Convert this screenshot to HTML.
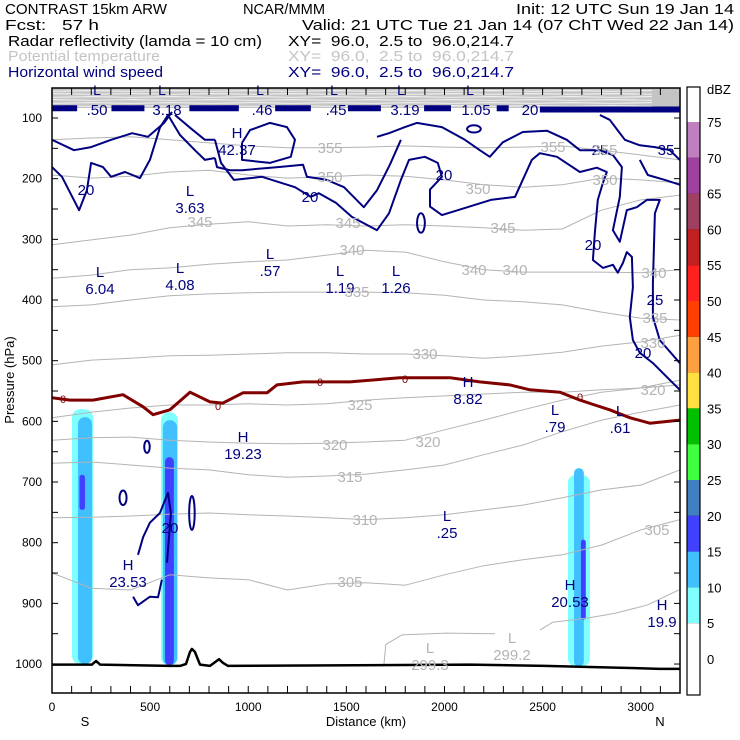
<!DOCTYPE html>
<html><head><meta charset="utf-8">
<style>
html,body{margin:0;padding:0;background:#fff;}
svg{display:block;font-family:"Liberation Sans",sans-serif;}
.hdr{font-size:15px;}
</style></head>
<body>
<svg id="chart" width="740" height="740" viewBox="0 0 740 740" xmlns="http://www.w3.org/2000/svg">
<defs><clipPath id="plotclip"><rect x="52" y="88" width="628" height="605"/></clipPath></defs>
<rect x="0" y="0" width="740" height="740" fill="#fff"/>
<g class="hdr">
<text x="5" y="14" textLength="162" lengthAdjust="spacingAndGlyphs">CONTRAST 15km ARW</text>
<text x="243" y="14" textLength="82" lengthAdjust="spacingAndGlyphs">NCAR/MMM</text>
<text x="516" y="14" textLength="218" lengthAdjust="spacingAndGlyphs">Init: 12 UTC Sun 19 Jan 14</text>
<text x="5" y="30" textLength="94" lengthAdjust="spacingAndGlyphs" xml:space="preserve">Fcst:   57 h</text>
<text x="302" y="30" textLength="432" lengthAdjust="spacingAndGlyphs">Valid: 21 UTC Tue 21 Jan 14 (07 ChT Wed 22 Jan 14)</text>
<text x="8" y="46" textLength="254" lengthAdjust="spacingAndGlyphs">Radar reflectivity (lamda = 10 cm)</text>
<text x="288" y="46" textLength="226" lengthAdjust="spacingAndGlyphs" xml:space="preserve">XY=  96.0,  2.5 to  96.0,214.7</text>
<text x="8" y="61" fill="#c4c4c4" textLength="152" lengthAdjust="spacingAndGlyphs">Potential temperature</text>
<text x="288" y="61" fill="#c4c4c4" textLength="226" lengthAdjust="spacingAndGlyphs" xml:space="preserve">XY=  96.0,  2.5 to  96.0,214.7</text>
<text x="8" y="77" fill="#000080" textLength="155" lengthAdjust="spacingAndGlyphs">Horizontal wind speed</text>
<text x="288" y="77" fill="#000080" textLength="226" lengthAdjust="spacingAndGlyphs" xml:space="preserve">XY=  96.0,  2.5 to  96.0,214.7</text>
</g>
<g id="plot" clip-path="url(#plotclip)"></g>
<g id="labels"></g>
<g id="axes"></g>
<g id="cbar"></g>
</svg>
<script>
const ns="http://www.w3.org/2000/svg";
// ---- axis data ----
const pressureTicks=[100,200,300,400,500,600,700,800,900,1000];
const distanceTicks=[0,500,1000,1500,2000,2500,3000];
// ---- colorbar data ----
const dbzLevels=[75,70,65,60,55,50,45,40,35,30,25,20,15,10,5,0];
const dbzColors=["#c080c0","#a040a0","#a04060","#c02020","#ff2020","#ff4000","#ffa040","#ffe040","#00c000","#40ff40","#4080c0","#4040ff","#40c0ff","#80ffff","#ffffff"];
// ---- reflectivity columns (km start, km end, top pressure, dBZ level) ----
const reflStartKm=[102,132,555,565,576,2629,2660,2695,140];
const reflEndKm=[209,204,642,637,621,2741,2710,2720,168];
const reflTopP=[580,593,585,598,659,688,677,795,688];
const reflBottomP=[1000,1000,1002,1002,1002,1004,1004,927,746];
const reflLevel=[5,10,5,10,15,5,10,15,15];
// ---- potential temperature ----
const thetaKm=[0,200,400,600,800,1000,1200,1400,1600,1800,2000,2200,2400,2600,2800,3000,3200];
const theta355=[136,133,131,136,141,146,149,149,148,146,148,149,148,146,153,161,169];
const theta350=[194,199,196,189,186,194,199,197,194,196,202,210,214,210,199,202,207];
const theta345=[309,301,293,281,275,271,278,276,278,276,278,281,285,283,252,235,227];
const theta340=[364,359,350,347,341,337,334,326,318,321,337,350,354,354,354,355,350];
const theta335=[411,408,400,393,390,388,387,387,387,388,392,400,403,408,420,430,433];
const theta330=[507,499,496,492,491,489,487,487,489,489,492,496,492,486,476,469,458];
const theta325=[594,585,578,573,573,571,573,571,565,561,558,555,552,552,548,545,532];
const theta320=[631,627,626,631,634,636,637,636,634,631,614,598,581,565,552,545,540];
const theta315=[669,667,672,677,680,688,692,690,687,680,672,655,639,617,598,585,573];
const theta310=[759,758,756,753,751,754,756,759,762,759,754,746,738,726,713,705,680];
const theta305=[850,875,878,853,858,861,878,868,866,870,853,838,828,820,804,779,762];
const theta300a=[[1691,1001],[1701,968],[1783,952],[2007,949],[2257,950]];
const theta300b=[[2486,944],[2552,931],[2735,924],[2873,916],[3031,903],[3194,878]];
// ---- freezing level ----
const zeroKm=[0,92,209,362,464,515,601,703,805,871,973,1096,1146,1279,1518,1773,2027,2180,2333,2435,2588,2690,2766,2842,2944,3046,3199];
const zeroP=[561,565,565,556,576,589,581,552,568,570,553,553,540,535,535,528,528,535,540,548,552,565,573,581,594,603,598];
// ---- terrain ----
const terrainKm=[0,204,224,245,601,652,683,703,713,728,754,805,830,851,871,897,2129,2511,2893,3097,3199];
const terrainP=[1001,1001,995,1001,1003,1003,1000,980,975,980,1001,1003,997,992,998,1003,1001,1003,1006,1008,1008];
// ---- wind speed contours [km, hPa] ----
const wind20a=[[830,136],[861,174],[927,202],[1070,197],[1238,214],[1319,230],[1360,224],[1447,240],[1528,263],[1656,285],[1717,257],[1778,202],[1819,169],[1900,164],[1966,174],[1987,197],[1926,218],[1926,246],[1987,260],[2068,252],[2236,235],[2359,230],[2445,169],[2486,158],[2573,164],[2690,189],[2776,182],[2827,189],[2807,207],[2781,235],[2766,290],[2756,334],[2807,347],[2858,342],[2883,355],[2909,339],[2929,321],[2955,329],[2960,379],[2944,428],[2960,466],[2995,487],[3062,504],[3133,527],[3199,548]];
const wind25=[[1656,131],[1717,125],[1798,115],[1859,108],[1987,115],[2104,136],[2180,153],[2231,164],[2297,140],[2399,123],[2522,121],[2623,136],[2690,153],[2792,153],[2858,161],[2904,181],[2893,230],[2858,285],[2893,304],[2929,252],[2980,247],[3031,235],[3097,235],[3072,257],[3062,372],[3062,428],[3097,466],[3199,504]];
const wind35a=[[2792,95],[2842,103],[2919,136],[2995,145],[3072,148],[3148,153],[3199,169]];
const wind35b=[[2995,169],[3036,194],[3123,202],[3199,210]];
const wind20b=[[0,181],[51,197],[138,252],[178,219],[199,174],[260,181],[301,197],[372,189],[448,199],[499,169],[550,116],[591,95]];
const wind20c=[[0,136],[112,153],[199,148],[301,136],[408,125],[489,131],[571,108],[611,90]];
const windMax=[[968,141],[1009,120],[1110,108],[1197,115],[1238,136],[1217,164],[1110,174],[968,169],[968,141]];
const wind30=[[830,166],[841,181],[907,186],[968,186],[1151,181],[1279,177],[1299,197],[1401,202],[1488,214],[1589,247],[1656,219],[1722,177],[1778,136]];
const wind25b=[[591,95],[652,128],[728,153],[779,169],[830,166]];
const wind30b=[[627,95],[703,116],[779,136],[830,136]];
const wind20low=[[438,820],[464,791],[499,767],[550,751],[591,718],[606,751],[586,833]];
const wind20max=[[413,889],[438,903],[499,889],[540,890],[560,861]];
const windJetStartKm=[0,303,700,1137,1508,1896,2266,2486];
const windJetEndKm=[128,471,952,1319,1676,2033,2327,3199];
const windJetP=[84,84,84,84,84,84,84,86];
const windOvalKm=[1880,484,362,713,2150];
const windOvalP=[273,642,726,751,118];
const windOvalRk=[20,14,18,14,35];
const windOvalRp=[16,10,12,28,6];

const xS=km=>52+km*(628/3200);
const yS=p=>118+(p-100)*0.6067;
const plot=document.getElementById('plot');

function poly(parent,pts,stroke,w,name){
  const el=document.createElementNS(ns,'polyline');
  el.setAttribute('points',pts.map(d=>xS(d[0]).toFixed(1)+','+yS(d[1]).toFixed(1)).join(' '));
  el.setAttribute('fill','none');el.setAttribute('stroke',stroke);el.setAttribute('stroke-width',w);
  el.setAttribute('stroke-linejoin','round');
  
  
  parent.appendChild(el);return el;
}
function rect(parent,x,y,w,h,fill,name){
  const r=document.createElementNS(ns,'rect');
  r.setAttribute('x',x);r.setAttribute('y',y);r.setAttribute('width',w);r.setAttribute('height',h);r.setAttribute('fill',fill);
  
  
  parent.appendChild(r);return r;
}
function txt(parent,x,y,s,fill,size,anchor,name){
  const t=document.createElementNS(ns,'text');
  t.setAttribute('x',x);t.setAttribute('y',y);t.setAttribute('fill',fill);t.setAttribute('font-size',size);
  t.setAttribute('text-anchor',anchor||'middle');t.textContent=s;
  
  
  parent.appendChild(t);return t;
}
function colorFor(level){return dbzColors[dbzLevels.indexOf(level+5)];}

// top stratospheric dense theta band
rect(plot,52,88,628,20,"#c4c4c4",'stratosphere-theta-band');
for(let i=0;i<6;i++){
  const l=document.createElementNS(ns,'path');
  const y0=90.5+i*3;
  let d='M52 '+y0;
  for(let x=52;x<=680;x+=40){d+=' L'+x+' '+(y0+((x/40+i)%2)*0.6);}
  l.setAttribute('d',d);l.setAttribute('stroke','#fff');l.setAttribute('stroke-width','0.8');l.setAttribute('fill','none');
  
  
  plot.appendChild(l);
}

// reflectivity
for(let i=0;i<reflStartKm.length;i++){
  const x0=xS(reflStartKm[i]),x1=xS(reflEndKm[i]),y0=yS(reflTopP[i]),y1=yS(reflBottomP[i]);
  const r=rect(plot,x0,y0,x1-x0,y1-y0,colorFor(reflLevel[i]),'reflectivity-cell');
  r.setAttribute('rx',Math.min((x1-x0)/2,8));
}

// theta lines
const thetaSeries=[theta355,theta350,theta345,theta340,theta335,theta330,theta325,theta320,theta315,theta310,theta305];
thetaSeries.forEach(arr=>{
  poly(plot,arr.map((p,i)=>[thetaKm[i],p]),"#b4b4b4",1,'theta-contour');
});
poly(plot,theta300a,"#b4b4b4",1,'theta-contour-300');
poly(plot,theta300b,"#b4b4b4",1,'theta-contour-300');

// wind contours
[wind20a,wind25,wind35a,wind35b,wind20b,wind20c,windMax,wind30,wind25b,wind30b,wind20low,wind20max].forEach(a=>{
  poly(plot,a,"#000080",2,'wind-speed-contour');
});
for(let i=0;i<windJetStartKm.length;i++){
  const l=document.createElementNS(ns,'line');
  l.setAttribute('x1',xS(windJetStartKm[i]));l.setAttribute('x2',xS(windJetEndKm[i]));
  l.setAttribute('y1',yS(windJetP[i]));l.setAttribute('y2',yS(windJetP[i]));
  l.setAttribute('stroke','#000080');l.setAttribute('stroke-width','6');
  
  
  plot.appendChild(l);
}
for(let i=0;i<windOvalKm.length;i++){
  const e=document.createElementNS(ns,'ellipse');
  e.setAttribute('cx',xS(windOvalKm[i]));e.setAttribute('cy',yS(windOvalP[i]));
  e.setAttribute('rx',windOvalRk[i]*628/3200);e.setAttribute('ry',windOvalRp[i]*0.6067);
  e.setAttribute('fill','none');e.setAttribute('stroke','#000080');e.setAttribute('stroke-width','2');
  
  
  plot.appendChild(e);
}

// freezing level
poly(plot,zeroKm.map((k,i)=>[k,zeroP[i]]),"#800000",3,'freezing-level-line');
// terrain
poly(plot,terrainKm.map((k,i)=>[k,terrainP[i]]),"#000",2.5,'terrain-surface');

// labels
const L=document.getElementById('labels');
const nv="#000080",gy="#b4b4b4";
[[97,'L','.50'],[162,'L','3.18'],[260,'L','.46'],[334,'L','.45'],[401,'L','3.19'],[470,'L','1.05']].forEach(d=>{
  txt(L,d[0],95,d[1],nv,14,'middle','jet-extremum-letter');
});
[[97,'.50'],[167,'3.18'],[262,'.46'],[336,'.45'],[405,'3.19'],[476,'1.05'],[530,'20']].forEach(d=>{
  txt(L,d[0],115,d[1],nv,15,'middle','jet-label');
});
const ext=[[237,138,'H','42.37'],[190,196,'L','3.63'],[100,277,'L','6.04'],[180,273,'L','4.08'],[270,259,'L','.57'],[340,276,'L','1.19'],[396,276,'L','1.26'],[468,387,'H','8.82'],[555,415,'L','.79'],[620,416,'L','.61'],[243,442,'H','19.23'],[447,521,'L','.25'],[128,570,'H','23.53'],[570,590,'H','20.53'],[662,610,'H','19.9']];
ext.forEach(d=>{txt(L,d[0],d[1],d[2],nv,15,'middle','extremum-letter');txt(L,d[0],d[1]+17,d[3],nv,15,'middle','extremum-value');});
[[430,653,'L','299.3'],[512,643,'L','299.2']].forEach(d=>{txt(L,d[0],d[1],d[2],gy,15,'middle','theta-extremum-letter');txt(L,d[0],d[1]+17,d[3],gy,15,'middle','theta-extremum-value');});
[[86,195,'20'],[310,202,'20'],[444,180,'20'],[593,250,'20'],[170,533,'20'],[643,358,'20'],[600,155,'25'],[655,305,'25'],[666,155,'35']].forEach(d=>txt(L,d[0],d[1],d[2],nv,15,'middle','wind-contour-label'));
[[200,227,'345'],[348,228,'345'],[503,233,'345'],[352,255,'340'],[474,275,'340'],[515,275,'340'],[654,278,'340'],[357,297,'335'],[655,323,'335'],[425,359,'330'],[653,348,'330'],[360,410,'325'],[335,450,'320'],[428,447,'320'],[653,395,'320'],[350,482,'315'],[365,525,'310'],[350,587,'305'],[657,535,'305'],[330,182,'350'],[478,194,'350'],[605,185,'350'],[330,153,'355'],[553,152,'355'],[605,155,'355']].forEach(d=>txt(L,d[0],d[1],d[2],gy,15,'middle','theta-contour-label'));
[[63,403],[218,410],[320,386],[405,383],[580,401]].forEach(d=>txt(L,d[0],d[1],'0',"#800000",11,'middle','freezing-level-label'));

// axes
const A=document.getElementById('axes');
const frame=rect(A,52,88,628,605,"none",'plot-frame');
frame.setAttribute('stroke','#000');frame.setAttribute('stroke-width','1.5');
function seg(x1,y1,x2,y2,name){const l=document.createElementNS(ns,'line');l.setAttribute('x1',x1);l.setAttribute('y1',y1);l.setAttribute('x2',x2);l.setAttribute('y2',y2);l.setAttribute('stroke','#000');l.setAttribute('stroke-width','1');
 
 
 A.appendChild(l);}
for(let p=100;p<=1000;p+=50){const y=yS(p);seg(52,y,58,y,'y-tick');seg(674,y,680,y,'y-tick-right');}
for(let k=0;k<=3200;k+=100){const x=xS(k);seg(x,693,x,686,'x-tick');seg(x,88,x,95,'x-tick-top');}
pressureTicks.forEach(p=>txt(A,42,yS(p)+4,String(p),"#000",12,'end','y-tick-label'));
distanceTicks.forEach(k=>txt(A,xS(k),711,String(k),"#000",12,'middle','x-tick-label'));
txt(A,85,726,'S',"#000",13,'middle','south-label');
txt(A,660,726,'N',"#000",13,'middle','north-label');
txt(A,366,726,'Distance (km)',"#000",13,'middle','x-axis-title');
const yt=txt(A,14,380,'Pressure (hPa)',"#000",13,'middle','y-axis-title');
yt.setAttribute('transform','rotate(-90 14 380)');

// colorbar
const C=document.getElementById('cbar');
const cbTop=122,cbStep=35.8;
rect(C,687,87,13,cbTop-87,"#fff",'colorbar-box-top');
dbzColors.forEach((c,i)=>{rect(C,687,cbTop+i*cbStep,13,cbStep,c,'colorbar-box');});
rect(C,687,cbTop+15*cbStep,13,695-(cbTop+15*cbStep),"#fff",'colorbar-box-bottom');
const cf=rect(C,687,87,13,608,"none",'colorbar-frame');cf.setAttribute('stroke','#000');cf.setAttribute('stroke-width','1.2');
dbzLevels.forEach((v,i)=>{const y=cbTop+i*cbStep;seg(687,y,700,y,'colorbar-divider');txt(C,707,y+5,String(v),"#000",13,'start','colorbar-label');});
txt(C,707,94,'dBZ',"#000",13,'start','colorbar-unit');
</script>
</body></html>
